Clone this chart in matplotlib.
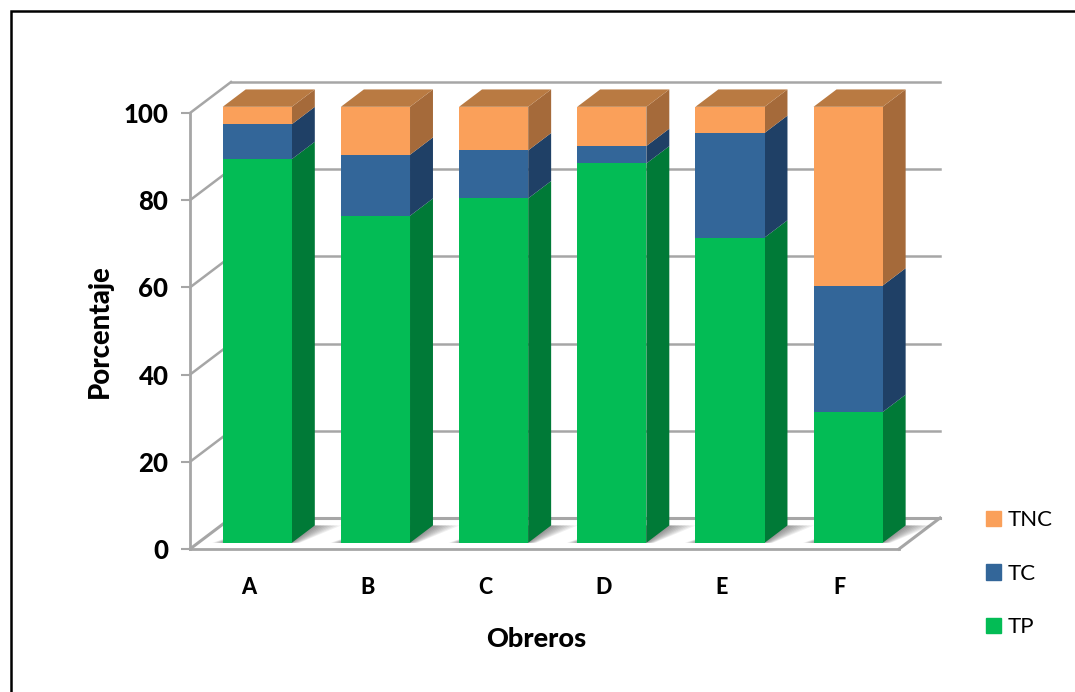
import matplotlib.pyplot as plt
import numpy as np
from matplotlib.lines import Line2D
from matplotlib.patches import Patch

obreros = ['A', 'B', 'C', 'D', 'E', 'F']
tp = [88, 75, 79, 87, 70, 30]
tc = [8, 14, 11, 4, 24, 29]
tnc = [4, 11, 10, 9, 6, 41]
y_ticks = [0, 20, 40, 60, 80, 100]

plt.rcParams['font.family'] = ['Lato', 'DejaVu Sans']

# Face colours for each series: front, side, top
TP_COLORS = ('#03BC55', '#007A37', '#007A37')
TC_COLORS = ('#336699', '#1F4066', '#1F4066')
TNC_COLORS = ('#FAA05A', '#A56A3A', '#B97A42')

GRID = '#A6A6A6'

# The 3D box: one unit of depth moves 41 px right and 31 px up
W, H = 1075, 692
DX = 41 / (709 / 6)
DY = 31 / (436 / 100)
BAR_W = 0.585
D_FRONT, D_BACK = 0.2, 0.76


def shift(x, y, d):
    return x + d * DX, y + d * DY


fig = plt.figure(figsize=(W / 100, H / 100), dpi=100)
ax = fig.add_axes([190 / W, (H - 549) / H, 709 / W, 436 / H])
ax.set_xlim(-0.5, 5.5)
ax.set_ylim(0, 100)

# Back wall and left wall gridlines
for v in y_ticks[1:]:
    x0, y0 = shift(-0.5, v, 1)
    x1, y1 = shift(5.5, v, 1)
    ax.plot([x0, x1], [y0, y1], color=GRID, lw=1.8, clip_on=False, zorder=1)
    ax.plot([-0.5, x0], [v, y0], color=GRID, lw=1.8, clip_on=False, zorder=1)

# Floor outline
x0, y0 = shift(-0.5, 0, 1)
x1, y1 = shift(5.5, 0, 1)
ax.plot([x0, x1], [y0, y1], color=GRID, lw=2.2, clip_on=False, zorder=1)
ax.plot([-0.5, x0], [0, y0], color=GRID, lw=2.2, clip_on=False, zorder=1)
ax.plot([5.5, x1], [0, y1], color=GRID, lw=2.2, clip_on=False, zorder=1)

# Soft shadows lying on the floor
for i in range(len(obreros)):
    left = i - BAR_W / 2
    right = i + BAR_W / 2
    for k in range(9):
        grow = k * 0.028
        corners = [shift(left - grow * 0.4, 0, D_FRONT),
                   shift(right + grow * 0.3, 0, D_FRONT),
                   shift(right + grow, 0, D_BACK),
                   shift(left + 0.15, 0, D_BACK)]
        xs, ys = zip(*corners)
        ax.fill(xs, ys, color='black', alpha=0.06, lw=0, clip_on=False,
                zorder=1.5)

# Stacked columns, bottom to top
series = [(tp, TP_COLORS), (tc, TC_COLORS), (tnc, TNC_COLORS)]
bottom = np.zeros(len(obreros))
for values, colors in series:
    values = np.array(values)
    top = bottom + values
    for i in range(len(obreros)):
        right = i + BAR_W / 2
        left = i - BAR_W / 2

        # Front face
        fx, fy = shift(left, bottom[i], D_FRONT)
        ax.bar(fx, values[i], width=BAR_W, bottom=fy, align='edge',
               color=colors[0], lw=0, clip_on=False, zorder=3)

        # Right side face
        side = [shift(right, bottom[i], D_FRONT),
                shift(right, top[i], D_FRONT),
                shift(right, top[i], D_BACK),
                shift(right, bottom[i], D_BACK)]
        xs, ys = zip(*side)
        ax.fill(xs, ys, color=colors[1], lw=0, clip_on=False, zorder=2.5)

        # Lid of the column
        if top[i] >= 100:
            lid = [shift(left, top[i], D_FRONT),
                   shift(right, top[i], D_FRONT),
                   shift(right, top[i], D_BACK),
                   shift(left, top[i], D_BACK)]
            xs, ys = zip(*lid)
            ax.fill(xs, ys, color=colors[2], lw=0, clip_on=False, zorder=2.5)
    bottom = top

# Axes
for name in ['top', 'right']:
    ax.spines[name].set_visible(False)
for name in ['left', 'bottom']:
    ax.spines[name].set_color(GRID)
    ax.spines[name].set_linewidth(2.0)
    ax.spines[name].set_zorder(2)

ax.set_xticks(range(len(obreros)))
ax.set_xticklabels(obreros, fontsize=15.5, fontweight='black')
ax.set_yticks(y_ticks)
ax.set_yticklabels(y_ticks, fontsize=18.5, fontweight='black')
ax.tick_params(axis='x', length=0, pad=20)
ax.tick_params(axis='y', length=6.5, width=1.5, color=GRID, pad=9)

ax.set_xlabel('Obreros', fontsize=19.5, fontweight='black', labelpad=21,
              x=(536 - 190) / 709)
ax.set_ylabel('Porcentaje', fontsize=19.8, fontweight='black', labelpad=8)

# Legend, top series first
handles = [Patch(color=TNC_COLORS[0], label='TNC'),
           Patch(color=TC_COLORS[0], label='TC'),
           Patch(color=TP_COLORS[0], label='TP')]
fig.legend(handles=handles, frameon=False, fontsize=16, handlelength=0.68,
           handleheight=0.68, handletextpad=0.3, labelspacing=1.5,
           loc='lower left', bbox_to_anchor=(986 / W, (H - 637) / H),
           borderpad=0, borderaxespad=0)

# Black frame along the left and top edges
px = [[11, 11, 1075], [692, 11, 11]]
fig.add_artist(Line2D(np.array(px[0]) / W, 1 - np.array(px[1]) / H,
                      color='black', lw=1.8, solid_joinstyle='miter'))

fig.savefig('out.png', dpi=100)
